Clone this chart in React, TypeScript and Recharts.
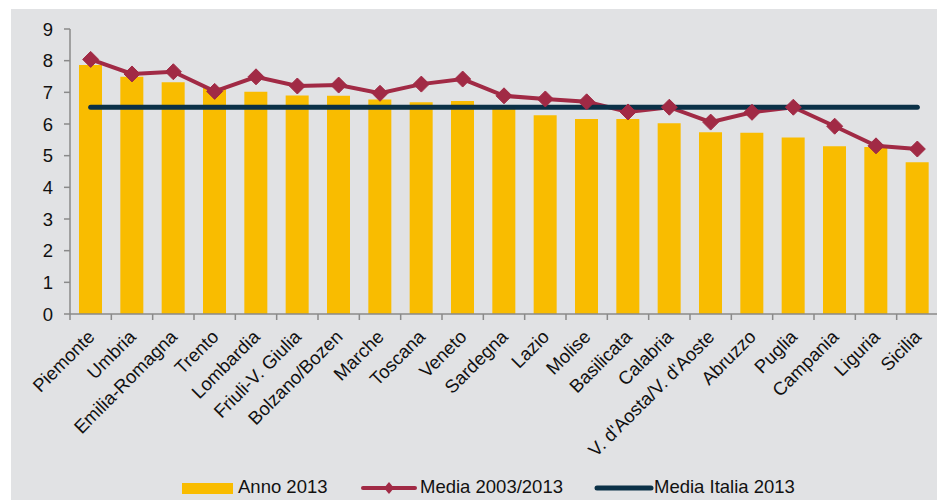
import React from 'react';
import { ComposedChart, Bar, Line, XAxis, YAxis } from 'recharts';

const categories = ['Piemonte', 'Umbria', 'Emilia-Romagna', 'Trento', 'Lombardia', 'Friuli-V. Giulia', 'Bolzano/Bozen', 'Marche', 'Toscana', 'Veneto', 'Sardegna', 'Lazio', 'Molise', 'Basilicata', 'Calabria', "V. d'Aosta/V. d'Aoste", 'Abruzzo', 'Puglia', 'Campania', 'Liguria', 'Sicilia'];
const anno2013 = [7.86, 7.49, 7.32, 7.15, 7.02, 6.90, 6.89, 6.77, 6.69, 6.73, 6.5, 6.28, 6.16, 6.16, 6.02, 5.74, 5.72, 5.57, 5.30, 5.27, 4.79];
const media0313 = [8.04, 7.58, 7.65, 7.03, 7.49, 7.20, 7.23, 6.97, 7.26, 7.42, 6.89, 6.79, 6.70, 6.38, 6.53, 6.06, 6.37, 6.53, 5.93, 5.31, 5.21];
const mediaItalia2013 = 6.53;
const yTicks = [0, 1, 2, 3, 4, 5, 6, 7, 8, 9];
const seriesNames = ['Anno 2013', 'Media 2003/2013', 'Media Italia 2013'];

const data = categories.map((name, i) => ({
  name,
  anno: anno2013[i],
  media: media0313[i],
  italia: mediaItalia2013,
}));

const FONT = "Arial, 'Liberation Sans', sans-serif";
const FS = 18.5;
const BAR = '#F9BC00';
const RED = '#A12A45';
const NAVY = '#0B3147';
const BG = '#E1E2E4';
const AXIS = '#8A8A8A';

const CH_W = 934;
const CH_H = 491;
const MARGIN = { top: 20, right: 7, left: 0, bottom: 0 };
const Y_W = 59;
const STEP = (CH_W - MARGIN.right - Y_W) / categories.length;

const XTick = (props: any) => {
  const { x, y, payload, index } = props;
  const half = STEP / 2;
  const ax = x + 5;
  const ay = y + 24;
  return (
    <g>
      <line x1={x - half} x2={x - half} y1={y} y2={y + 6} stroke={AXIS} strokeWidth={1.5} />
      {index === categories.length - 1 && (
        <line x1={x + half} x2={x + half} y1={y} y2={y + 6} stroke={AXIS} strokeWidth={1.5} />
      )}
      <text
        x={ax}
        y={ay}
        textAnchor="end"
        transform={`rotate(-45, ${ax}, ${ay})`}
        fontSize={FS}
        fontFamily={FONT}
        fill="#111"
      >
        {payload.value}
      </text>
    </g>
  );
};

const Diamond = (props: any) => {
  const { cx, cy, index } = props;
  if (cx == null || cy == null) return <g key={`d${index}`} />;
  const r = 8;
  return (
    <path
      key={`d${index}`}
      d={`M${cx},${cy - r} L${cx + r},${cy} L${cx},${cy + r} L${cx - r},${cy} Z`}
      fill={RED}
      stroke={RED}
      strokeWidth={1}
    />
  );
};

const Legend = () => (
  <div
    style={{
      position: 'absolute',
      left: 0,
      top: 466,
      width: CH_W,
      height: 26,
      fontFamily: FONT,
      fontSize: FS,
      color: '#111',
    }}
  >
    <div style={{ position: 'absolute', left: 171, top: 8, width: 51, height: 11, background: BAR }} />
    <div style={{ position: 'absolute', left: 227, top: 1, whiteSpace: 'nowrap' }}>{seriesNames[0]}</div>
    <svg style={{ position: 'absolute', left: 349, top: 5 }} width={58} height={16}>
      <line x1={3} x2={55} y1={8} y2={8} stroke={RED} strokeWidth={4} strokeLinecap="round" />
      <path d="M29,2 L34,8 L29,14 L24,8 Z" fill={RED} />
    </svg>
    <div style={{ position: 'absolute', left: 409, top: 1, whiteSpace: 'nowrap' }}>{seriesNames[1]}</div>
    <svg style={{ position: 'absolute', left: 583, top: 5 }} width={60} height={16}>
      <line x1={3} x2={57} y1={8} y2={8} stroke={NAVY} strokeWidth={5} strokeLinecap="round" />
    </svg>
    <div style={{ position: 'absolute', left: 643, top: 1, whiteSpace: 'nowrap' }}>{seriesNames[2]}</div>
  </div>
);

export default function App() {
  return (
    <div style={{ position: 'relative', width: 937, height: 495 }}>
      <div style={{ position: 'absolute', left: 3, top: 1, width: CH_W, height: CH_H, background: BG }}>
        <ComposedChart width={CH_W} height={CH_H} data={data} margin={MARGIN}>
          <XAxis
            dataKey="name"
            interval={0}
            tickLine={false}
            tickSize={0}
            tickMargin={0}
            axisLine={{ stroke: AXIS, strokeWidth: 1.5 }}
            tick={<XTick />}
            height={CH_H - MARGIN.top - 285}
          />
          <YAxis
            width={Y_W}
            domain={[0, 9]}
            ticks={yTicks}
            interval={0}
            tickSize={6}
            tickMargin={11}
            axisLine={{ stroke: AXIS, strokeWidth: 1.5 }}
            tickLine={{ stroke: AXIS, strokeWidth: 1.5 }}
            tick={{ fontSize: FS, fontFamily: FONT, fill: '#111' }}
          />
          <Bar dataKey="anno" name={seriesNames[0]} fill={BAR} barSize={23} isAnimationActive={false} />
          <Line
            dataKey="media"
            name={seriesNames[1]}
            stroke={RED}
            strokeWidth={4}
            dot={Diamond}
            activeDot={false}
            isAnimationActive={false}
          />
          <Line
            dataKey="italia"
            name={seriesNames[2]}
            stroke={NAVY}
            strokeWidth={5}
            strokeLinecap="round"
            dot={false}
            activeDot={false}
            isAnimationActive={false}
          />
        </ComposedChart>
        <Legend />
      </div>
    </div>
  );
}
